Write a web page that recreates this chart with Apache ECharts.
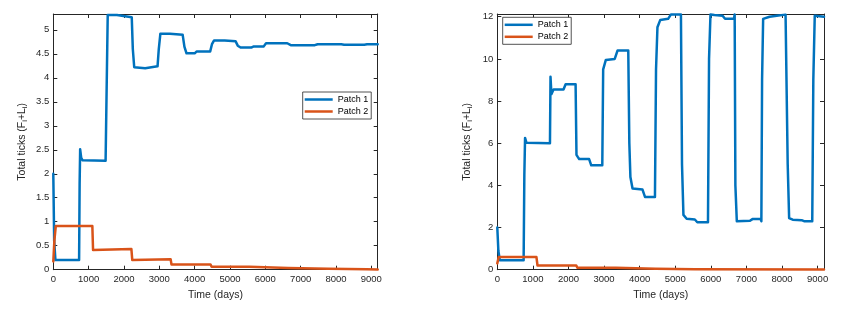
<!DOCTYPE html>
<html>
<head>
<meta charset="utf-8">
<script src="https://cdn.jsdelivr.net/npm/echarts@6/dist/echarts.min.js"></script>
<style>
html,body{margin:0;padding:0;background:#fff;}
#c{width:841px;height:317px;}
</style>
</head>
<body>
<div id="c"></div>
<script>
// ---- data ----
const xTicks = [0, 1000, 2000, 3000, 4000, 5000, 6000, 7000, 8000, 9000];
const seriesNames = ['Patch 1', 'Patch 2'];

// Left panel, Patch 1
const leftP1T = [0, 25, 60, 730, 745, 760, 790, 830, 1480, 1510, 1540, 1800, 1840, 2220, 2250, 2290, 2330, 2600, 2640, 2950, 2985, 3030, 3300, 3350, 3660, 3710, 3770, 4000, 4060, 4440, 4490, 4550, 4850, 4900, 5160, 5220, 5300, 5600, 5660, 5950, 6020, 6620, 6720, 7400, 7480, 8150, 8230, 8800, 8880, 9180];
const leftP1V = [2.0, 0.6, 0.2, 0.2, 1.8, 2.51, 2.33, 2.28, 2.27, 3.8, 5.31, 5.31, 5.27, 5.26, 4.6, 4.22, 4.2, 4.2, 4.24, 4.24, 4.6, 4.92, 4.92, 4.9, 4.9, 4.65, 4.51, 4.51, 4.55, 4.55, 4.7, 4.78, 4.78, 4.76, 4.76, 4.67, 4.63, 4.63, 4.65, 4.65, 4.72, 4.72, 4.68, 4.68, 4.70, 4.70, 4.69, 4.69, 4.70, 4.70];
// Left panel, Patch 2
const leftP2T = [0, 30, 70, 1105, 1125, 1160, 2210, 2235, 2270, 3320, 3345, 4450, 4480, 5550, 5580, 6650, 6680, 7780, 7810, 8870, 8900, 9180];
const leftP2V = [0.17, 0.6, 0.91, 0.91, 0.41, 0.43, 0.43, 0.2, 0.22, 0.22, 0.11, 0.11, 0.06, 0.06, 0.035, 0.035, 0.02, 0.02, 0.01, 0.01, 0.005, 0.005];

// Right panel, Patch 1
const rightP1T = [0, 30, 70, 740, 760, 780, 820, 860, 1480, 1495, 1520, 1580, 1860, 1920, 2200, 2225, 2260, 2300, 2580, 2640, 2950, 2975, 3050, 3300, 3380, 3680, 3710, 3740, 3800, 4080, 4150, 4430, 4460, 4500, 4580, 4800, 4880, 5160, 5190, 5230, 5320, 5550, 5620, 5920, 5950, 5990, 6100, 6330, 6400, 6650, 6670, 6690, 6730, 7100, 7170, 7400, 7420, 7440, 7470, 7650, 7850, 8100, 8130, 8160, 8200, 8300, 8550, 8620, 8850, 8880, 8920, 9180];
const rightP1V = [2.0, 0.9, 0.45, 0.45, 4.5, 6.25, 6.02, 6.0, 6.0, 9.15, 8.33, 8.55, 8.55, 8.8, 8.8, 5.45, 5.35, 5.25, 5.25, 4.95, 4.95, 9.5, 9.95, 10.0, 10.4, 10.4, 6.0, 4.4, 3.85, 3.8, 3.45, 3.45, 9.5, 11.5, 11.85, 11.9, 12.11, 12.11, 5.0, 2.6, 2.42, 2.38, 2.25, 2.25, 10.0, 12.11, 12.08, 12.05, 11.9, 11.9, 12.11, 4.0, 2.3, 2.32, 2.4, 2.4, 2.3, 9.0, 11.9, 12.0, 12.05, 12.1, 12.11, 5.0, 2.45, 2.37, 2.35, 2.3, 2.3, 9.0, 12.05, 12.0];
// Right panel, Patch 2
const rightP2T = [0, 40, 1100, 1130, 2220, 2250, 3330, 3360, 4450, 4480, 5550, 5580, 9180];
const rightP2V = [0.3, 0.6, 0.6, 0.2, 0.2, 0.09, 0.09, 0.04, 0.04, 0.02, 0.02, 0.01, 0.005];

const leftYTicks = [0, 0.5, 1, 1.5, 2, 2.5, 3, 3.5, 4, 4.5, 5];
const rightYTicks = [0, 2, 4, 6, 8, 10, 12];

// ---- build ----
const FONT = "'Liberation Sans', Arial, Helvetica, sans-serif";
const AX = '#262626';
const BLUE = '#0072BD';
const ORANGE = '#D95319';
const XMAX = 9180;

function pairs(t, v) { return t.map((x, i) => [x, v[i]]); }
function tickFmt(step) {
  return function (val) {
    const r = val / step;
    return Math.abs(r - Math.round(r)) < 1e-6 ? String(+val.toFixed(2)) : '';
  };
}
function xAxis(gridIndex, pos, showLabel) {
  return {
    type: 'value', gridIndex: gridIndex, position: pos,
    min: xTicks[0], max: XMAX, interval: xTicks[1] - xTicks[0],
    splitLine: { show: false },
    axisLine: { show: true, onZero: false, lineStyle: { color: AX, width: 1 } },
    axisTick: { show: true, inside: true, length: 4, lineStyle: { color: AX } },
    axisLabel: { show: showLabel, color: AX, fontFamily: FONT, fontSize: 9.5, margin: 5, formatter: tickFmt(1000) },
    name: showLabel ? 'Time (days)' : '', nameLocation: 'middle', nameGap: 20,
    nameTextStyle: { color: AX, fontFamily: FONT, fontSize: 10.5 }
  };
}
function yAxis(gridIndex, pos, showLabel, ticks, ymax, gap) {
  const step = ticks[1] - ticks[0];
  return {
    type: 'value', gridIndex: gridIndex, position: pos,
    min: ticks[0], max: ymax, interval: step,
    splitLine: { show: false },
    axisLine: { show: true, onZero: false, lineStyle: { color: AX, width: 1 } },
    axisTick: { show: true, inside: true, length: 4, lineStyle: { color: AX } },
    axisLabel: { show: showLabel, color: AX, fontFamily: FONT, fontSize: 9.5, margin: 4, formatter: tickFmt(step) },
    name: showLabel ? '{n|Total ticks (F}{s|i}{n|+L}{s|i}{n|)}' : '',
    nameLocation: 'middle', nameGap: gap, nameRotate: 90,
    nameTextStyle: {
      color: AX, fontFamily: FONT, fontSize: 10.5,
      rich: {
        n: { color: AX, fontFamily: FONT, fontSize: 10.5, lineHeight: 14 },
        s: { color: AX, fontFamily: FONT, fontSize: 7.5, lineHeight: 7, verticalAlign: 'bottom' }
      }
    }
  };
}
function line(name, color, xi, yi, t, v) {
  return {
    type: 'line', name: name, xAxisIndex: xi, yAxisIndex: yi,
    data: pairs(t, v), showSymbol: false, symbol: 'none',
    lineStyle: { color: color, width: 2.5, join: 'round', cap: 'round' }, itemStyle: { color: color },
    emphasis: { disabled: true }, animation: false, clip: true
  };
}
function legend(left, top) {
  return {
    data: seriesNames, orient: 'vertical', left: left, top: top,
    icon: 'rect', itemWidth: 28, itemHeight: 2.5, itemGap: 1,
    padding: [2, 3, 2, 2],
    backgroundColor: '#fff', borderColor: AX, borderWidth: 0.8, borderRadius: 0,
    textStyle: { color: '#000', fontFamily: FONT, fontSize: 9, lineHeight: 11 },
    selectedMode: false
  };
}

const chart = echarts.init(document.getElementById('c'), null, { renderer: 'canvas' });
chart.setOption({
  animation: false,
  backgroundColor: '#fff',
  grid: [
    { left: 53.3, top: 14, width: 324.4, height: 255.7 },
    { left: 497.3, top: 14, width: 326.7, height: 255.7 }
  ],
  xAxis: [xAxis(0, 'bottom', true), xAxis(0, 'top', false), xAxis(1, 'bottom', true), xAxis(1, 'top', false)],
  yAxis: [
    yAxis(0, 'left', true, leftYTicks, 5.33, 24), yAxis(0, 'right', false, leftYTicks, 5.33, 24),
    yAxis(1, 'left', true, rightYTicks, 12.13, 23), yAxis(1, 'right', false, rightYTicks, 12.13, 23)
  ],
  legend: [legend(302.7, 92), legend(502.7, 17.3)],
  series: [
    line(seriesNames[0], BLUE, 0, 0, leftP1T, leftP1V),
    line(seriesNames[1], ORANGE, 0, 0, leftP2T, leftP2V),
    line(seriesNames[0], BLUE, 2, 2, rightP1T, rightP1V),
    line(seriesNames[1], ORANGE, 2, 2, rightP2T, rightP2V)
  ]
});
</script>
</body>
</html>
